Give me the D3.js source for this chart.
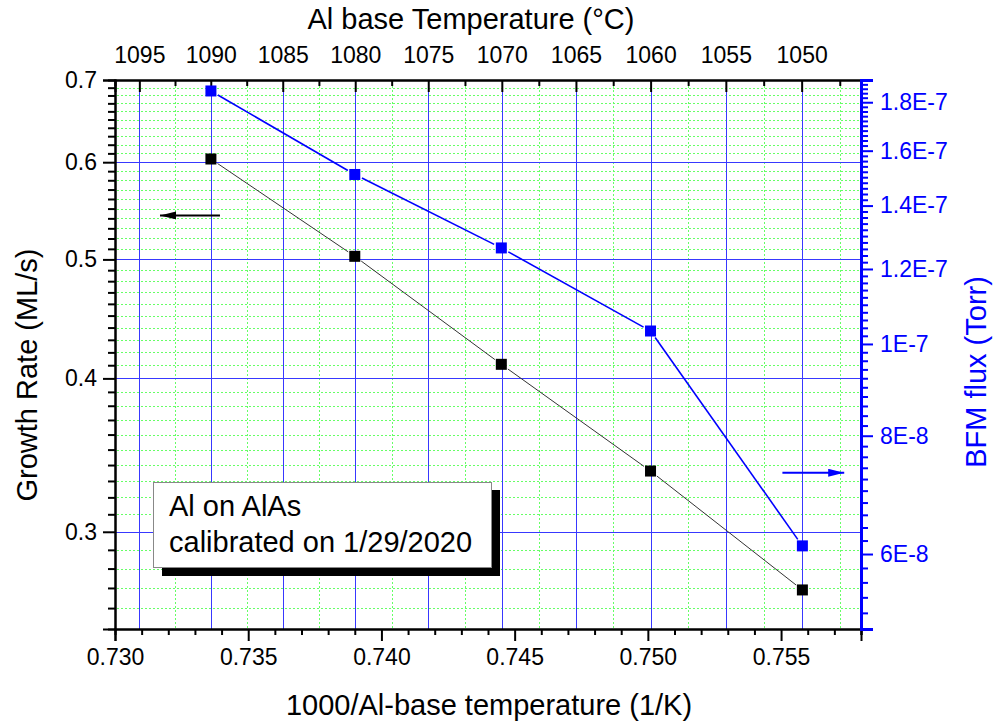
<!DOCTYPE html>
<html>
<head>
<meta charset="utf-8">
<script src="https://cdn.jsdelivr.net/npm/d3@7"></script>
<style>
  body { margin: 0; background: #fff; }
  text { font-family: "Liberation Sans", Arial, sans-serif; }
</style>
</head>
<body>
<div id="chart"></div>
<script>
// data
const invTemp = [0.7336, 0.7390, 0.7445, 0.7501, 0.7558];      // 1000/T (1/K)
const growthRate = [0.6036, 0.5029, 0.4107, 0.3362, 0.2690];   // ML/s
const bfmFlux = [1.85e-7, 1.51e-7, 1.263e-7, 1.032e-7, 6.12e-8]; // Torr

// tick values / labels
const bottomTicks = [0.730, 0.735, 0.740, 0.745, 0.750, 0.755];
const leftTicks = [0.3, 0.4, 0.5, 0.6, 0.7];
const rightTicks = [6e-8, 8e-8, 1e-7, 1.2e-7, 1.4e-7, 1.6e-7, 1.8e-7];
const rightLabels = ["6E-8", "8E-8", "1E-7", "1.2E-7", "1.4E-7", "1.6E-7", "1.8E-7"];
const topTicks = [1095, 1090, 1085, 1080, 1075, 1070, 1065, 1060, 1055, 1050];
const topMinor = [1092.5, 1087.5, 1082.5, 1077.5, 1072.5, 1067.5, 1062.5, 1057.5, 1052.5, 1047.5];

const W = 994, H = 723;
const margin = {top: 80, right: 133, bottom: 94, left: 115};
const x0 = margin.left, x1 = W - margin.right, y0 = margin.top, y1 = H - margin.bottom;

const svg = d3.select("#chart").append("svg")
  .attr("width", W).attr("height", H);
svg.append("rect").attr("width", W).attr("height", H).attr("fill", "#fff");

const x = d3.scaleLinear().domain([0.730, 0.758]).range([x0, x1]);
const yL = d3.scaleLog().domain([0.25, 0.7]).range([y1, y0]);
const yR = d3.scaleLog().domain([5e-8, 1.9e-7]).range([y1, y0]);
const tToX = t => 1000 / (t + 273.15);

// minor tick lists
const leftMinor = d3.range(26, 70).filter(v => v % 10 !== 0).map(v => v / 100);
const bottomMinor = d3.range(731, 759).filter(v => v % 5 !== 0).map(v => v / 1000);
const rightMinor = d3.range(26, 96).filter(v => v % 10 !== 0).map(v => v * 2e-9);

// grid
const px = v => Math.round(v) + 0.5;
const grid = svg.append("g").attr("shape-rendering", "crispEdges");
grid.append("g").selectAll("line").data(leftMinor).join("line")
  .attr("x1", x0 + 2).attr("x2", x1)
  .attr("y1", d => px(yL(d))).attr("y2", d => px(yL(d)))
  .attr("stroke", "#66ff66").attr("stroke-dasharray", "2,2");
grid.append("g").selectAll("line").data(topMinor).join("line")
  .attr("y1", y0 + 2).attr("y2", y1)
  .attr("x1", d => px(x(tToX(d)))).attr("x2", d => px(x(tToX(d))))
  .attr("stroke", "#66ff66").attr("stroke-dasharray", "2,2");
grid.append("g").selectAll("line").data(leftTicks.slice(0, 4)).join("line")
  .attr("x1", x0).attr("x2", x1)
  .attr("y1", d => px(yL(d))).attr("y2", d => px(yL(d)))
  .attr("stroke", "#3838ff");
grid.append("g").selectAll("line").data(topTicks).join("line")
  .attr("y1", y0).attr("y2", y1)
  .attr("x1", d => px(x(tToX(d)))).attr("x2", d => px(x(tToX(d))))
  .attr("stroke", "#3838ff");

// axes
function styleAxis(g, color, width) {
  g.attr("font-family", "Liberation Sans, Arial, sans-serif");
  g.selectAll("path").attr("stroke", color).attr("stroke-width", width);
  g.selectAll("line").attr("stroke", color).attr("stroke-width", 2);
  g.selectAll("text").attr("fill", color).attr("font-size", 23);
}

// bottom
const bMin = svg.append("g").attr("transform", `translate(0,${y1})`)
  .call(d3.axisBottom(x).tickValues(bottomMinor).tickSize(6).tickFormat(""));
styleAxis(bMin, "#000", 2);
const bMaj = svg.append("g").attr("transform", `translate(0,${y1})`)
  .call(d3.axisBottom(x).tickValues(bottomTicks).tickSize(12).tickPadding(8).tickFormat(d3.format(".3f")));
styleAxis(bMaj, "#000", 2);

// left
const lMin = svg.append("g").attr("transform", `translate(${x0},0)`)
  .call(d3.axisLeft(yL).tickValues(leftMinor).tickSize(7).tickFormat(""));
styleAxis(lMin, "#000", 2);
const lMaj = svg.append("g").attr("transform", `translate(${x0},0)`)
  .call(d3.axisLeft(yL).tickValues(leftTicks).tickSize(12).tickPadding(6).tickFormat(d3.format(".1f")));
styleAxis(lMaj, "#000", 2);

// top (°C)
const tMin = svg.append("g").attr("transform", `translate(0,${y0})`)
  .call(d3.axisTop(x).tickValues(topMinor.map(tToX)).tickSize(-6).tickFormat(""));
styleAxis(tMin, "#000", 2);
const tMaj = svg.append("g").attr("transform", `translate(0,${y0})`)
  .call(d3.axisTop(x).tickValues(topTicks.map(tToX)).tickSize(-12).tickPadding(17)
    .tickFormat((d, i) => topTicks[i]));
styleAxis(tMaj, "#000", 2);

// right (flux)
const rMin = svg.append("g").attr("transform", `translate(${x1},0)`)
  .call(d3.axisRight(yR).tickValues(rightMinor).tickSize(7).tickFormat(""));
styleAxis(rMin, "#0000ff", 3);
const rMaj = svg.append("g").attr("transform", `translate(${x1},0)`)
  .call(d3.axisRight(yR).tickValues(rightTicks).tickSize(12).tickPadding(7)
    .tickFormat((d, i) => rightLabels[i]));
styleAxis(rMaj, "#0000ff", 3);

// series with gaps around the symbols
function drawSeries(yScale, vals, lineColor, dotColor, lw) {
  const pts = invTemp.map((v, i) => [x(v), yScale(vals[i])]);
  const gap = 8;
  const segs = d3.pairs(pts).map(([a, b]) => {
    const dx = b[0] - a[0], dy = b[1] - a[1], L = Math.hypot(dx, dy);
    return [a[0] + dx * gap / L, a[1] + dy * gap / L, b[0] - dx * gap / L, b[1] - dy * gap / L];
  });
  svg.append("g").selectAll("line").data(segs).join("line")
    .attr("x1", d => d[0]).attr("y1", d => d[1]).attr("x2", d => d[2]).attr("y2", d => d[3])
    .attr("stroke", lineColor).attr("stroke-width", lw);
  svg.append("g").selectAll("rect").data(pts).join("rect")
    .attr("x", d => d[0] - 5.5).attr("y", d => d[1] - 5.5)
    .attr("width", 11).attr("height", 11).attr("fill", dotColor);
}
drawSeries(yL, growthRate, "#333", "#000", 1);
drawSeries(yR, bfmFlux, "#0000ff", "#0000ff", 1.6);

// arrows
const defs = svg.append("defs");
[["ahK", "#000"], ["ahB", "#0000ff"]].forEach(([id, c]) => {
  defs.append("marker").attr("id", id).attr("viewBox", "0 0 16 8")
    .attr("refX", 16).attr("refY", 4).attr("markerWidth", 16).attr("markerHeight", 8)
    .attr("markerUnits", "userSpaceOnUse").attr("orient", "auto")
    .append("path").attr("d", "M0,0L16,4L0,8Z").attr("fill", c);
});
svg.append("line")
  .attr("x1", x(0.73394)).attr("x2", x(0.73169)).attr("y1", yL(0.543)).attr("y2", yL(0.543))
  .attr("stroke", "#000").attr("stroke-width", 2).attr("marker-end", "url(#ahK)");
svg.append("line")
  .attr("x1", x(0.75505)).attr("x2", x(0.75737)).attr("y1", yR(7.31e-8)).attr("y2", yR(7.31e-8))
  .attr("stroke", "#0000ff").attr("stroke-width", 2).attr("marker-end", "url(#ahB)");

// note box
const note = svg.append("g");
note.append("rect").attr("x", 162).attr("y", 490).attr("width", 338).attr("height", 86).attr("fill", "#000");
note.append("rect").attr("x", 153.5).attr("y", 482.5).attr("width", 338).attr("height", 85)
  .attr("fill", "#fff").attr("stroke", "#888").attr("stroke-width", 1);
note.append("text").attr("x", 169).attr("y", 516).attr("font-size", 29).text("Al on AlAs");
note.append("text").attr("x", 169).attr("y", 552).attr("font-size", 29).text("calibrated on 1/29/2020");

// axis titles
svg.append("text").attr("x", (x0 + x1) / 2 + 1).attr("y", 715).attr("text-anchor", "middle")
  .attr("font-size", 29).text("1000/Al-base temperature (1/K)");
svg.append("text").attr("x", 471).attr("y", 29).attr("text-anchor", "middle")
  .attr("font-size", 29).text("Al base Temperature (°C)");
svg.append("text").attr("transform", "translate(37,375) rotate(-90)").attr("text-anchor", "middle")
  .attr("font-size", 29).text("Growth Rate (ML/s)");
svg.append("text").attr("transform", "translate(986,372) rotate(-90)").attr("text-anchor", "middle")
  .attr("font-size", 29).attr("fill", "#0000ff").text("BFM flux (Torr)");
</script>
</body>
</html>
